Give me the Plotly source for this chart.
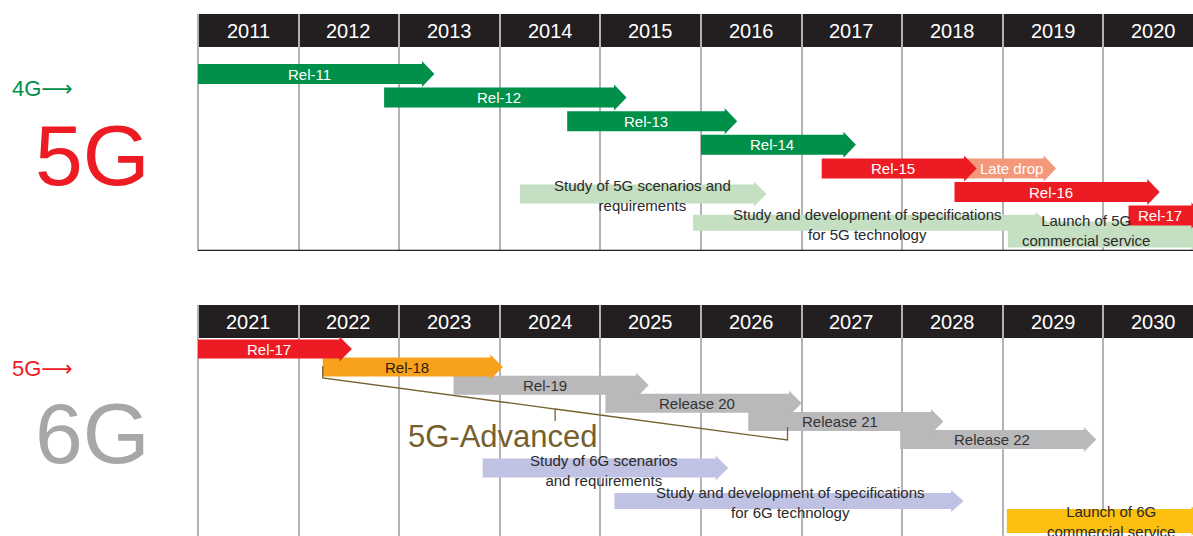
import plotly.graph_objects as go

# ---------------- data ----------------
years_5g = [2011, 2012, 2013, 2014, 2015, 2016, 2017, 2018, 2019, 2020]
years_6g = [2021, 2022, 2023, 2024, 2025, 2026, 2027, 2028, 2029, 2030]

rel5_labels = ["Rel-11", "Rel-12", "Rel-13", "Rel-14", "Rel-15", "Late drop", "Rel-16", "Rel-17"]
rel5_start = [2011.0, 2012.85, 2014.67, 2016.0, 2017.2, 2018.6, 2018.52, 2020.25]
rel5_end = [2013.35, 2015.26, 2016.36, 2017.54, 2018.74, 2019.53, 2020.56, 2021.0]
rel5_lane = [0, 1, 2, 3, 4, 4, 5, 6]
rel5_group = ["4G", "4G", "4G", "4G", "5G", "late", "5G", "5G"]

study5_labels = ["Study of 5G scenarios and<br>requirements",
                 "Study and development of specifications<br>for 5G technology",
                 "Launch of 5G<br>commercial service"]
study5_start = [2014.2, 2015.92, 2019.05]
study5_end = [2016.65, 2019.45, 2021.0]
study5_lane = [5.08, 6.3, 6.8]
study5_kind = ["study", "study_thin", "launch"]

rel6_labels = ["Rel-17", "Rel-18", "Rel-19", "Release 20", "Release 21", "Release 22"]
rel6_start = [2021.0, 2022.24, 2023.54, 2025.05, 2026.47, 2027.98]
rel6_end = [2022.53, 2024.03, 2025.48, 2027.0, 2028.41, 2029.93]
rel6_lane = [0, 1, 2, 3, 4, 5]
rel6_group = ["5G", "5GA", "gray", "gray", "gray", "gray"]

study6_labels = ["Study of 6G scenarios<br>and requirements",
                 "Study and development of specifications<br>for 6G technology",
                 "Launch of 6G<br>commercial service"]
study6_start = [2023.83, 2025.14, 2029.04]
study6_end = [2026.27, 2028.61, 2031.0]
study6_lane = [6.57, 8.4, 9.5]
study6_kind = ["study", "study_thin", "launch"]

advanced_label = "5G-Advanced"
advanced_span = [2022.24, 2026.86]

# ---------------- layout constants / styles ----------------
W, H = 1193, 536
X0_PX, PPY = 198.0, 100.6          # pixel of first year, pixels per year
FONT = "Liberation Sans, Arial, Helvetica, sans-serif"
HEADER_BG = "#231f20"
GRID = "#b3b3b7"

group_fill = {"4G": "#009049", "5G": "#ed1c24", "late": "#f4977b",
              "5GA": "#f7a11c", "gray": "#b9b9bb"}
group_text = {"4G": "white", "5G": "white", "late": "white",
              "5GA": "#2b2110", "gray": "#333333"}

panels = {
    "top": dict(first=years_5g[0], head_top=14, head_bot=47, bottom=251,
                lane0=74.0, ppl=23.6, rel_h=20, study_fill="#c4dfc1",
                launch_fill="#c4dfc1", xa="x", ya="y"),
    "bot": dict(first=years_6g[0], head_top=305, head_bot=338, bottom=536,
                lane0=349.0, ppl=18.1, rel_h=19, study_fill="#bfc2e2",
                launch_fill="#fdc010", xa="x2", ya="y2"),
}
kind_h = {"study": 19, "study_thin": 16}
launch_h = {"top": 26, "bot": 24}
HEAD_PX, HEAD_EXTRA_PX = 12.5, 3.0

text_shift = {  # fine tuning of label placement (px)
    study5_labels[0]: (6, -2), study5_labels[1]: (3, -1.5), study5_labels[2]: (-14, 4),
    study6_labels[0]: (5, -2.5), study6_labels[1]: (8, -1.5), study6_labels[2]: (12, -1),
    "Late drop": (8, 0),
}


def lane_at_px(p, px):
    return (px - p["lane0"]) / p["ppl"]


fig = go.Figure()
shapes, annotations = [], []


def arrow(p, s, e, lane, h_px, fill):
    half = h_px / 2 / p["ppl"]
    extra = HEAD_EXTRA_PX / p["ppl"]
    head = HEAD_PX / PPY
    b = e - head
    xs = [s, b, b, e, b, b, s, s]
    ys = [lane - half, lane - half, lane - half - extra, lane,
          lane + half + extra, lane + half, lane + half, lane - half]
    fig.add_trace(go.Scatter(x=xs, y=ys, mode="lines", fill="toself",
                             fillcolor=fill, line=dict(width=0, color=fill),
                             hoverinfo="skip", showlegend=False,
                             xaxis=p["xa"], yaxis=p["ya"]))


def label(p, x, lane, text, color, size, xs=0, ys=0):
    annotations.append(dict(x=x, y=lane, xref=p["xa"], yref=p["ya"], text=text,
                            showarrow=False, xshift=xs, yshift=ys,
                            font=dict(family=FONT, size=size, color=color)))


def draw_panel(key, years, rl, rs, re, rlane, rgroup, sl, ss, se, slane, skind):
    p = panels[key]
    xmax = p["first"] + (W - X0_PX) / PPY
    for t, s, e, ln, k in zip(sl, ss, se, slane, skind):
        if k == "launch":
            arrow(p, s, e, ln, launch_h[key], p["launch_fill"])
        else:
            arrow(p, s, e, ln, kind_h[k], p["study_fill"])
    for t, s, e, ln, g in reversed(list(zip(rl, rs, re, rlane, rgroup))):
        arrow(p, s, e, ln, p["rel_h"], group_fill[g])
    for t, s, e, ln, g in zip(rl, rs, re, rlane, rgroup):
        body_end = min(e - HEAD_PX / PPY, xmax)
        dx, dy = text_shift.get(t, (0, 0))
        label(p, (s + body_end) / 2, ln, t, group_text[g], 15, dx, dy)
    for t, s, e, ln, k in zip(sl, ss, se, slane, skind):
        body_end = min(e - HEAD_PX / PPY, xmax)
        dx, dy = text_shift.get(t, (0, 0))
        label(p, (s + body_end) / 2, ln, t, "#2a2a2a", 15, dx, dy)
    y_ht, y_hb = lane_at_px(p, p["head_top"]), lane_at_px(p, p["head_bot"])
    shapes.append(dict(type="rect", xref=p["xa"], yref=p["ya"], x0=years[0], x1=xmax,
                       y0=y_ht, y1=y_hb, fillcolor=HEADER_BG, line=dict(width=0),
                       layer="below"))
    for yr in years:
        annotations.append(dict(x=yr + 0.5, y=(y_ht + y_hb) / 2, xref=p["xa"], yref=p["ya"],
                                text=str(yr), showarrow=False,
                                font=dict(family=FONT, size=20, color="white")))


draw_panel("top", years_5g, rel5_labels, rel5_start, rel5_end, rel5_lane, rel5_group,
           study5_labels, study5_start, study5_end, study5_lane, study5_kind)
draw_panel("bot", years_6g, rel6_labels, rel6_start, rel6_end, rel6_lane, rel6_group,
           study6_labels, study6_start, study6_end, study6_lane, study6_kind)

# bottom border of the 5G panel
pt = panels["top"]
shapes.append(dict(type="line", xref="x", yref="y", x0=years_5g[0],
                   x1=pt["first"] + (W - X0_PX) / PPY,
                   y0=lane_at_px(pt, 251), y1=lane_at_px(pt, 251),
                   line=dict(color=HEADER_BG, width=2.5)))

# 5G-Advanced brace (bottom panel)
pb = panels["bot"]
a0, a1 = advanced_span
amid = (a0 + a1) / 2
slope_px = 62.0 / ((a1 - a0) * PPY)
base_px = 378.0
mid_px = base_px + slope_px * (amid - a0) * PPY
end_px = base_px + 62.0
bx = [a0, a0, amid, amid, amid, None, amid, a1, a1]
by = [lane_at_px(pb, base_px - 12), lane_at_px(pb, base_px), lane_at_px(pb, mid_px),
      lane_at_px(pb, mid_px + 12), lane_at_px(pb, mid_px), None,
      lane_at_px(pb, mid_px), lane_at_px(pb, end_px), lane_at_px(pb, end_px - 13)]
fig.add_trace(go.Scatter(x=bx, y=by, mode="lines", line=dict(color="#76602e", width=1.3),
                         hoverinfo="skip", showlegend=False, xaxis="x2", yaxis="y2"))
annotations.append(dict(x=a0 + (503 - 323) / PPY, y=lane_at_px(pb, 436), xref="x2", yref="y2",
                        text=advanced_label, showarrow=False,
                        font=dict(family=FONT, size=31, color="#76602e")))


# left-side generation labels
def side(text, xpx, ypx, size, color, anchor="left"):
    annotations.append(dict(x=xpx / W, y=1 - ypx / H, xref="paper", yref="paper",
                            text=text, showarrow=False, xanchor=anchor, yanchor="middle",
                            font=dict(family=FONT, size=size, color=color)))


ARROW = "<span style='font-family:DejaVu Sans'>⟶</span>"
side("4G" + ARROW, 10, 88, 22, "#009049")
side("5G", 33, 155, 86, "#ed1c24")
side("5G" + ARROW, 10, 368, 22, "#ed1c24")
side("6G", 33, 433, 86, "#a7a7a9")


def xaxis_cfg(p, years):
    lo = p["first"] - 2.0 / PPY
    hi = p["first"] + (W - X0_PX) / PPY
    return dict(domain=[(X0_PX - 2) / W, 1], range=[lo, hi], tickvals=years,
                showgrid=True, gridcolor=GRID, gridwidth=1.6, showticklabels=False,
                ticks="", zeroline=False, showline=False, fixedrange=True)


def yaxis_cfg(p, xa):
    return dict(domain=[1 - p["bottom"] / H, 1 - p["head_top"] / H],
                range=[lane_at_px(p, p["bottom"]), lane_at_px(p, p["head_top"])],
                visible=False, showgrid=False, zeroline=False, anchor=xa, fixedrange=True)


fig.update_layout(
    width=W, height=H, margin=dict(l=0, r=0, t=0, b=0),
    paper_bgcolor="white", plot_bgcolor="rgba(0,0,0,0)",
    xaxis=dict(**xaxis_cfg(panels["top"], years_5g), anchor="y"),
    yaxis=yaxis_cfg(panels["top"], "x"),
    xaxis2=dict(**xaxis_cfg(panels["bot"], years_6g), anchor="y2"),
    yaxis2=yaxis_cfg(panels["bot"], "x2"),
    shapes=shapes, annotations=annotations, showlegend=False,
)

fig.write_html("out.html", config={"displayModeBar": False},
               post_script="document.body.style.margin='0';document.body.style.overflow='hidden';")
